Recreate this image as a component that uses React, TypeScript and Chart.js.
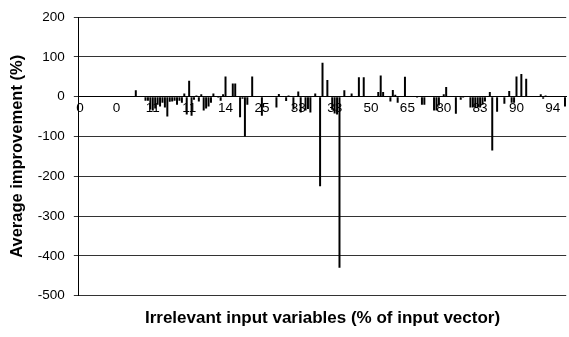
import React, { useEffect, useRef } from 'react';
import { Chart, registerables } from 'chart.js';

Chart.register(...registerables);

const FONT = '"Liberation Sans", Arial, sans-serif';

// Average improvement (%) per experiment, sorted by share of irrelevant inputs
const values: number[] = [
  0, 0, 0, 0, 0, 0, 0, 0, 0, 0,
  0, 0, 0, 0, 0, 0, 0, 0, 0, 0,
  0, 0, 0, 16, 0, 0, 0, -10, -10, -32,
  -35, -30, -20, -25, -15, -27, -50, -13, -12, -10,
  -20, -10, -15, 8, -45, 40, -48, -8, 3, -12,
  6, -35, -30, -25, -15, 8, 0, -3, -10, 6,
  51, 0, 0, 33, 33, 0, -52, -5, -100, -20,
  0, 51, 0, 0, 0, -48, 0, 0, 0, 0,
  0, -27, 7, 0, 0, -11, 3, 0, -32, 0,
  13, -40, 0, -35, -31, -40, 0, 8, 0, -225,
  85, 0, 42, 0, -33, -42, -45, -430, 0, 16,
  0, 0, 8, 0, 0, 49, 0, 49, 0, 0,
  0, 0, 0, 12, 53, 12, 0, 0, -12, 17,
  5, -15, 0, 0, 50, 0, 0, 0, 0, -3,
  0, -20, -20, 0, 0, 0, -35, -35, -22, 2,
  6, 24, 2, 0, 0, -43, 0, -8, -3, 0,
  0, -27, -27, -27, -27, -27, -20, -12, 0, 12,
  -135, 0, -38, 0, 0, -18, 0, 14, -15, -15,
  51, 0, 57, 0, 45, 1, 1, 1, 1, 0,
  6, -5, 3, 2, 2, 1, 1, 1, 0, 0,
  -25,
];

// Visible category labels (one every LABEL_STEP categories)
const tickLabels: string[] = ['0', '0', '11', '11', '14', '25', '33', '33', '50', '65', '80', '83', '90', '94'];
const LABEL_STEP = 15;

const categories: string[] = values.map((_, i) =>
  i % LABEL_STEP === 0 && tickLabels[i / LABEL_STEP] !== undefined ? tickLabels[i / LABEL_STEP] : ''
);

const yTicks = { min: -500, max: 200, step: 100 };

export default function App() {
  const ref = useRef<HTMLCanvasElement>(null);

  useEffect(() => {
    if (!ref.current) return;
    const chart = new Chart(ref.current, {
      type: 'bar',
      data: {
        labels: categories,
        datasets: [
          {
            data: values,
            backgroundColor: '#000000',
            borderWidth: 0,
            barPercentage: 0.82,
            categoryPercentage: 1,
          },
        ],
      },
      options: {
        responsive: false,
        animation: false,
        devicePixelRatio: 1,
        layout: { padding: { top: 5, right: 1, left: 0, bottom: 0 } },
        plugins: {
          legend: { display: false },
          tooltip: { enabled: false },
          title: {
            display: true,
            fullSize: false,
            position: 'bottom',
            text: 'Irrelevant input variables (% of input vector)',
            color: '#000',
            font: { family: FONT, size: 17, weight: 'bold' },
            padding: { top: 13, bottom: 8 },
          },
        },
        scales: {
          x: {
            position: { y: 0 } as any,
            grid: { display: false, drawTicks: false },
            border: { display: true, color: '#000', width: 1 },
            ticks: {
              autoSkip: false,
              maxRotation: 0,
              minRotation: 0,
              padding: 4,
              color: '#000',
              font: { family: FONT, size: 13.5 },
            },
          },
          y: {
            min: yTicks.min,
            max: yTicks.max,
            ticks: {
              stepSize: yTicks.step,
              padding: 9,
              color: '#000',
              font: { family: FONT, size: 13.5 },
            },
            grid: { color: '#333333', tickLength: 5, lineWidth: 1 },
            border: { color: '#000', width: 1 },
            title: {
              display: true,
              text: 'Average improvement (%)',
              color: '#000',
              font: { family: FONT, size: 16.5, weight: 'bold' },
              padding: { top: 8, bottom: 1 },
            },
          },
        },
      },
    });
    return () => chart.destroy();
  }, []);

  return (
    <div style={{ position: 'fixed', left: 0, top: 0, width: 569, height: 337, background: '#fff' }}>
      <canvas ref={ref} width={569} height={337} style={{ display: 'block' }} />
    </div>
  );
}
